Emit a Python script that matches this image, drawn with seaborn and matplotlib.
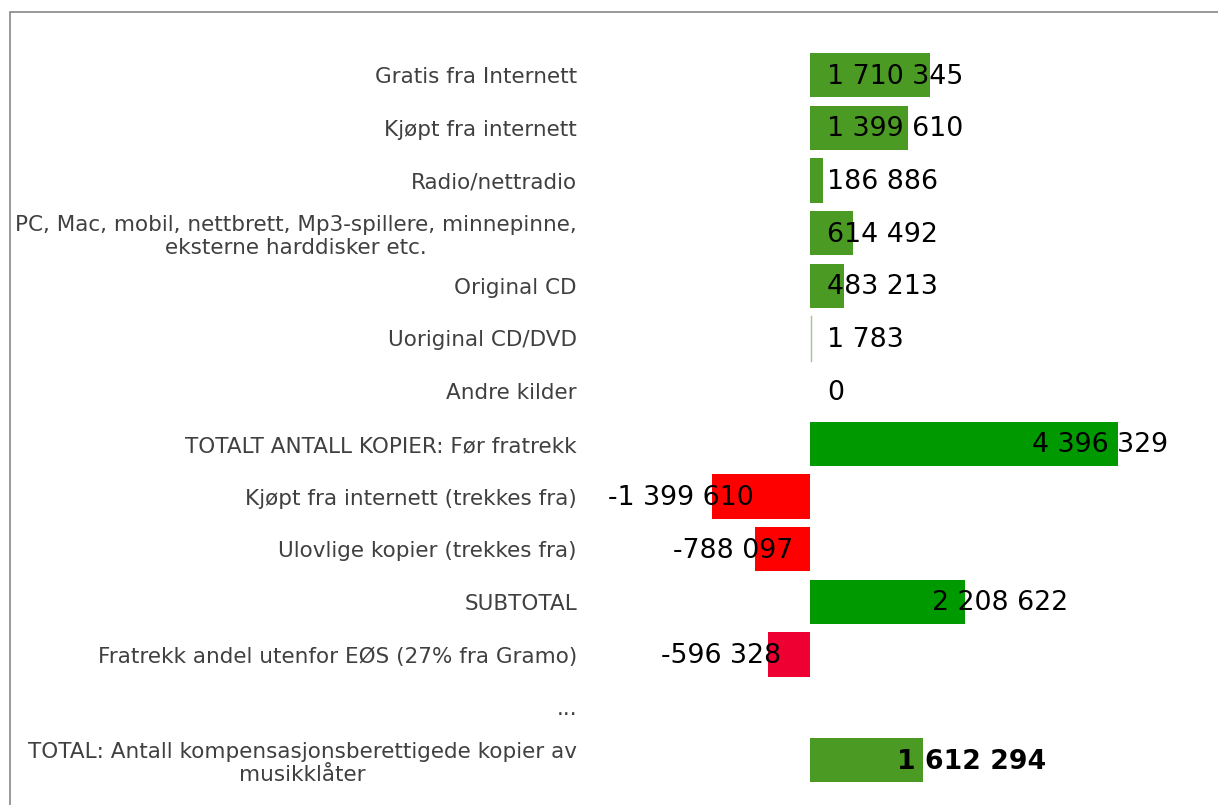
import matplotlib
matplotlib.use("Agg")
import matplotlib.pyplot as plt
import seaborn as sns
import pandas as pd
import numpy as np
from matplotlib.patches import Rectangle

categories = [
    "Gratis fra Internett",
    "Kjøpt fra internett",
    "Radio/nettradio",
    "PC, Mac, mobil, nettbrett, Mp3-spillere, minnepinne,\neksterne harddisker etc.",
    "Original CD",
    "Uoriginal CD/DVD",
    "Andre kilder",
    "TOTALT ANTALL KOPIER: Før fratrekk",
    "Kjøpt fra internett (trekkes fra)",
    "Ulovlige kopier (trekkes fra)",
    "SUBTOTAL",
    "Fratrekk andel utenfor EØS (27% fra Gramo)",
    "...",
    "TOTAL: Antall kompensasjonsberettigede kopier av\nmusikklåter",
]
values = [1710345, 1399610, 186886, 614492, 483213, 1783, 0, 4396329,
          -1399610, -788097, 2208622, -596328, np.nan, 1612294]
bar_colors = ["#4a9a23"] * 7 + ["#009900", "#ff0000", "#ff0000", "#009900",
                                "#ee0033", "#ffffff", "#4a9a23"]
# where each value label sits, in millions (left edge for positives, right edge for negatives)
label_x = [0.24] * 7 + [3.17, -0.81, -0.24, 1.74, -0.41, None, 1.24]

df = pd.DataFrame({"kategori": categories, "antall": np.array(values) / 1e6})

fig = plt.figure(figsize=(12.18, 8.05), dpi=100)
ax = fig.add_axes([590 / 1218, 1 - 786.3 / 805, 628 / 1218, (786.3 - 48.7) / 805])

sns.barplot(data=df, y="kategori", x="antall", hue="kategori", order=categories,
            palette=dict(zip(categories, bar_colors)), legend=False,
            width=0.84, saturation=1, orient="h", ax=ax)

ax.set_xlim(-220 / 70, 408 / 70)
ax.set_ylim(13.5, -0.5)
for s in ax.spines.values():
    s.set_visible(False)
ax.set_xticks([])
ax.set_xlabel("")
ax.set_ylabel("")
ax.tick_params(axis="y", length=0, pad=9.4)
for t in ax.get_yticklabels():
    t.set_fontsize(15.5)
    t.set_color("#404040")
    t.set_multialignment("center")
    t.set_linespacing(1.17)

# the tiny "Uoriginal CD/DVD" bar shows as a hairline
ax.axvline(0.02, ymin=1 - (5 + 0.92) / 14, ymax=1 - (5 + 0.08) / 14,
           color="#9cc987", linewidth=1)

for i, (v, lx) in enumerate(zip(values, label_x)):
    if lx is None or np.isnan(v):
        continue
    txt = f"{int(v):,}".replace(",", " ")
    bold = i == len(values) - 1
    ax.text(lx, i + 0.03, txt, ha="left" if v >= 0 else "right", va="center",
            fontsize=19.3, color="black", fontweight="bold" if bold else "normal")

# grey frame along the top and left edge
fig.add_artist(Rectangle((10 / 1218, -0.1), 1.2, 1 - 12 / 805 + 0.1,
                         transform=fig.transFigure, fill=False,
                         edgecolor="#888888", linewidth=1.2))

fig.savefig("out.png", dpi=100)
